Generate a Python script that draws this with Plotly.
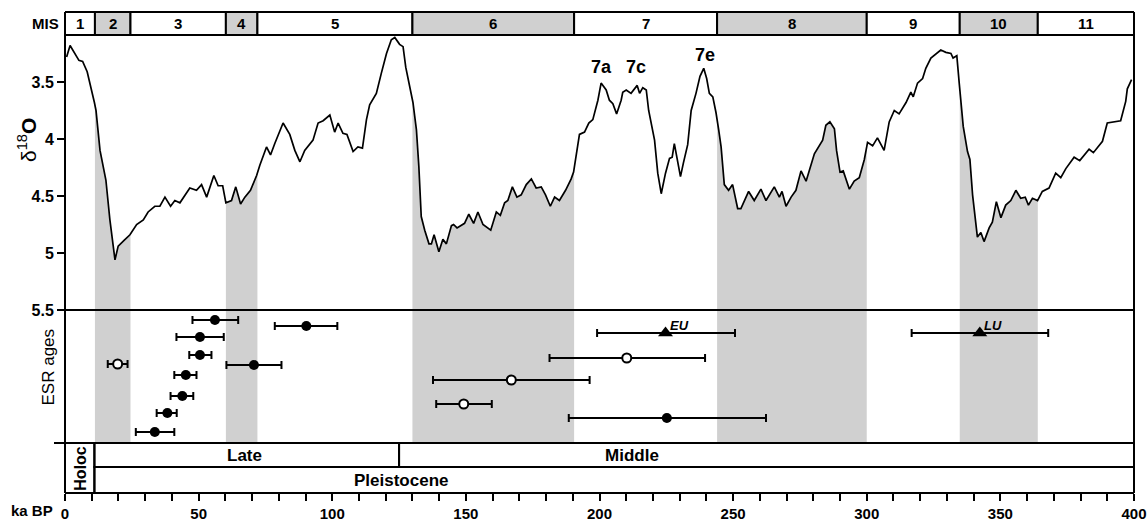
import numpy as np
import plotly.graph_objects as go

# ---------------- data ----------------
age_ka = [0.6, 1.9, 5.2, 6.6, 8.3, 10.0, 11.0, 11.6, 13.1, 15.3,
          16.8, 18.7, 19.9, 22.1, 24.3, 26.8, 29.3, 31.1, 33.6, 35.5,
          37.4, 39.5, 41.1, 43.0, 46.7, 49.2, 51.1, 53.0, 55.7, 57.3,
          59.0, 60.2, 62.3, 63.9, 65.7, 67.3, 69.4, 71.7, 72.9, 75.4,
          76.9, 78.5, 81.6, 84.1, 86.0, 87.9, 89.7, 92.8, 94.7, 96.6,
          99.1, 100.9, 102.2, 104.0, 105.5, 107.8, 109.6, 111.3, 112.8, 114.0,
          116.5, 118.4, 120.3, 122.1, 123.4, 125.2, 126.5, 127.5, 129.0,
          130.2, 131.5, 132.4, 133.3, 134.6, 136.2, 137.1, 138.1, 139.9, 141.4,
          142.7, 144.6, 145.4, 146.7, 149.5, 151.1, 152.9, 154.5, 156.4, 159.3,
          161.4, 162.9, 164.5, 165.7, 167.4, 169.1, 170.7, 172.6, 174.5, 176.3,
          178.2, 179.8, 181.6, 183.2, 185.0, 187.3, 189.4, 190.3, 191.3, 192.5,
          194.4, 196.0, 197.5, 199.4, 200.6, 202.5, 203.7, 205.0, 206.4, 208.1,
          208.7, 210.0, 211.8, 214.1, 215.0, 216.2, 217.5, 218.4, 220.6, 221.8,
          223.1, 224.7, 226.2, 227.2, 228.0, 228.7, 230.3, 231.4, 233.0, 234.3,
          236.1, 237.6, 239.0, 240.1, 241.1, 242.4, 243.6, 244.6, 245.5, 246.7,
          248.3, 249.8, 251.7, 252.9, 255.8, 257.9, 260.4, 262.3,
          265.4, 267.3, 268.3, 269.8, 271.7, 273.5, 275.4, 277.3, 280.4, 283.5,
          284.7, 286.2, 287.9, 288.7, 290.0, 291.2, 293.5, 295.3, 297.2, 299.1,
          300.3, 302.2, 304.0, 306.5, 308.4, 310.3, 312.1, 314.7, 316.5, 317.4,
          319.0, 320.9, 322.1, 324.0, 325.9, 327.7, 329.6, 331.5, 332.3, 333.7,
          334.6, 335.4, 336.1, 337.7, 338.6, 339.6, 341.4, 342.7, 343.9, 345.8,
          347.0, 348.5, 350.2, 352.0, 353.9, 355.8, 357.6, 359.3, 360.5, 362.0,
          363.9, 365.7, 368.2, 370.7, 372.6, 374.5, 377.6, 379.7, 383.2, 384.8,
          388.2, 390.0, 395.0, 396.9, 397.5, 399.1]
d18o = [3.28, 3.18, 3.31, 3.32, 3.41, 3.57, 3.68, 3.75, 4.10, 4.36,
        4.71, 5.06, 4.94, 4.89, 4.84, 4.75, 4.71, 4.64, 4.59, 4.59,
        4.51, 4.59, 4.54, 4.56, 4.43, 4.45, 4.40, 4.51, 4.32, 4.41,
        4.41, 4.56, 4.54, 4.42, 4.57, 4.51, 4.45, 4.32, 4.23, 4.07,
        4.14, 4.04, 3.86, 3.96, 4.10, 4.20, 4.10, 4.01, 3.86, 3.84,
        3.79, 3.94, 3.86, 3.95, 3.96, 4.11, 4.07, 4.08, 3.83, 3.70,
        3.60, 3.42, 3.25, 3.13, 3.11, 3.17, 3.19, 3.37, 3.54,
        3.68, 3.92, 4.24, 4.68, 4.80, 4.92, 4.92, 4.84, 4.99, 4.88,
        4.92, 4.76, 4.75, 4.78, 4.74, 4.66, 4.74, 4.64, 4.75, 4.80,
        4.64, 4.67, 4.56, 4.54, 4.42, 4.51, 4.49, 4.40, 4.35, 4.43,
        4.42, 4.49, 4.59, 4.51, 4.54, 4.45, 4.35, 4.29, 4.13, 3.96,
        3.94, 3.86, 3.83, 3.66, 3.51, 3.57, 3.66, 3.69, 3.78, 3.66,
        3.59, 3.57, 3.60, 3.53, 3.60, 3.55, 3.57, 3.75, 4.01, 4.30,
        4.48, 4.30, 4.17, 4.16, 4.04, 4.13, 4.33, 4.21, 4.05, 3.75,
        3.60, 3.45, 3.38, 3.47, 3.60, 3.63, 3.77, 3.92, 4.07, 4.40,
        4.45, 4.40, 4.61, 4.61, 4.46, 4.54, 4.44, 4.54,
        4.42, 4.51, 4.46, 4.59, 4.51, 4.45, 4.28, 4.37, 4.13, 4.01,
        3.88, 3.85, 3.91, 4.10, 4.29, 4.28, 4.44, 4.37, 4.34, 4.18,
        4.03, 4.06, 3.99, 4.10, 3.85, 3.75, 3.78, 3.68, 3.59, 3.63,
        3.51, 3.47, 3.38, 3.29, 3.25, 3.22, 3.24, 3.25, 3.29, 3.27,
        3.51, 3.75, 3.89, 4.11, 4.18, 4.49, 4.86, 4.82, 4.90, 4.78,
        4.73, 4.55, 4.69, 4.58, 4.54, 4.45, 4.52, 4.51, 4.58, 4.52,
        4.54, 4.46, 4.43, 4.30, 4.34, 4.26, 4.16, 4.19, 4.09, 4.12,
        4.02, 3.86, 3.84, 3.67, 3.56, 3.48]

mis_labels = ['1', '2', '3', '4', '5', '6', '7', '8', '9', '10', '11']
mis_bounds = [0, 11.2, 24.5, 60.2, 72.0, 130.0, 190.5, 244.0, 300.0, 334.8, 364.0, 400]

substage_labels = ['7a', '7c', '7e']
substage_age = [200.6, 213.7, 239.3]
substage_d18o = [3.37, 3.37, 3.26]

# ESR ages: central age, lower and upper bound (ka), and row position in panel
esr_fill_age = [56.1, 90.3, 50.5, 50.5, 70.7, 45.2, 43.9, 38.3, 33.6, 225.2]
esr_fill_lo = [47.7, 78.5, 41.7, 46.5, 60.4, 40.9, 39.5, 34.3, 26.5, 188.5]
esr_fill_hi = [64.8, 101.9, 59.4, 54.8, 81.0, 49.2, 48.0, 41.8, 40.9, 262.3]
esr_fill_row = [12.3, 11.7, 10.6, 8.8, 7.8, 6.8, 4.7, 3.0, 1.1, 2.5]

esr_open_age = [19.7, 210.2, 167.0, 149.2]
esr_open_lo = [16.0, 181.3, 137.7, 138.9]
esr_open_hi = [23.4, 239.5, 196.3, 159.7]
esr_open_row = [7.9, 8.5, 6.3, 3.9]

esr_tri_label = ['EU', 'LU']
esr_tri_age = [224.7, 342.3]
esr_tri_lo = [199.1, 316.8]
esr_tri_hi = [250.7, 367.9]
esr_tri_row = [11.0, 11.0]

holocene_end = 11.0
late_middle = 125.0
xtick_vals = list(range(0, 401, 10))
xtick_text = [str(v) if v % 50 == 0 else '' for v in xtick_vals]
ytick_vals = [3.5, 4, 4.5, 5, 5.5]
ytick_text = ['3.5', '4', '4.5', '5', '5.5']

# ---------------- layout geometry ----------------
W, H = 1148, 522
ML, MR, MT, MB = 65, 14, 12, 29
PW, PH = W - ML - MR, H - MT - MB


def py(px):
    return (H - MB - px) / PH


def pxx(px):
    return (px - ML) / PW


GRAY = '#d0d0d0'
FONT = 'Liberation Sans, Arial, sans-serif'
Y_D18O = [py(310), py(35)]
Y_ESR = [py(443), py(310)]
Y_LATE = [py(467), py(443)]
Y_PLEI = [0, py(467)]
Y_MIS = [py(35), 1]

fig = go.Figure()

ages = np.array(age_ka)
vals = np.array(d18o)
YBOT = 5.5

# shaded even stages below the curve
for i in range(1, len(mis_labels), 2):
    a, b = mis_bounds[i], mis_bounds[i + 1]
    inside = (ages > a) & (ages < b)
    xs = [a] + list(ages[inside]) + [b]
    ys = [np.interp(a, ages, vals)] + list(vals[inside]) + [np.interp(b, ages, vals)]
    xs += [b, a]
    ys += [YBOT, YBOT]
    fig.add_trace(go.Scatter(x=xs, y=ys, fill='toself', fillcolor=GRAY,
                             line=dict(width=0), mode='lines', hoverinfo='skip',
                             xaxis='x', yaxis='y', showlegend=False))

fig.add_trace(go.Scatter(x=age_ka, y=d18o, mode='lines',
                         line=dict(color='black', width=1.7),
                         xaxis='x', yaxis='y', showlegend=False))


def err(age, lo, hi):
    plus = [h - a for a, h in zip(age, hi)]
    minus = [a - l for a, l in zip(age, lo)]
    return dict(type='data', symmetric=False, array=plus, arrayminus=minus,
                color='black', thickness=2, width=4)


fig.add_trace(go.Scatter(x=esr_fill_age, y=esr_fill_row, mode='markers',
                         marker=dict(symbol='circle', size=10, color='black'),
                         error_x=err(esr_fill_age, esr_fill_lo, esr_fill_hi),
                         xaxis='x', yaxis='y2', showlegend=False))
fig.add_trace(go.Scatter(x=esr_open_age, y=esr_open_row, mode='markers',
                         marker=dict(symbol='circle', size=9, color='white',
                                     line=dict(color='black', width=2)),
                         error_x=err(esr_open_age, esr_open_lo, esr_open_hi),
                         xaxis='x', yaxis='y2', showlegend=False))
fig.add_trace(go.Scatter(x=esr_tri_age, y=esr_tri_row, mode='markers',
                         marker=dict(symbol='triangle-up', size=13, color='black'),
                         error_x=err(esr_tri_age, esr_tri_lo, esr_tri_hi),
                         xaxis='x', yaxis='y2', showlegend=False))

shapes = []
annotations = []


def label(x, y, text, size, xref='paper', yref='paper', angle=0, xanchor='center',
          yanchor='middle', **kw):
    d = dict(x=x, y=y, xref=xref, yref=yref, text=text, textangle=angle,
             xanchor=xanchor, yanchor=yanchor, showarrow=False,
             font=dict(family=FONT, size=size, color='black'))
    d.update(kw)
    annotations.append(d)


# ESR panel gray bands
for i in range(1, len(mis_labels), 2):
    shapes.append(dict(type='rect', xref='x', yref='y2 domain',
                       x0=mis_bounds[i], x1=mis_bounds[i + 1], y0=0, y1=1,
                       fillcolor=GRAY, line=dict(width=0), layer='below'))
# MIS bar
for i, lab in enumerate(mis_labels):
    a, b = mis_bounds[i], mis_bounds[i + 1]
    shapes.append(dict(type='rect', xref='x', yref='paper', x0=a, x1=b,
                       y0=Y_MIS[0], y1=Y_MIS[1],
                       fillcolor=GRAY if i % 2 == 1 else 'white',
                       line=dict(color='black', width=2)))
    label((a + b) / 2, (Y_MIS[0] + Y_MIS[1]) / 2, '<b>%s</b>' % lab, 15, xref='x')
# panel separators
shapes.append(dict(type='line', xref='paper', yref='paper', x0=0, x1=1,
                   y0=Y_D18O[0], y1=Y_D18O[0], line=dict(color='black', width=2)))
shapes.append(dict(type='line', xref='paper', yref='paper', x0=pxx(54), x1=1,
                   y0=Y_ESR[0], y1=Y_ESR[0], line=dict(color='black', width=2)))
# epoch boxes
shapes.append(dict(type='rect', xref='x', yref='paper', x0=0, x1=holocene_end,
                   y0=0, y1=Y_LATE[1], line=dict(color='black', width=2)))
shapes.append(dict(type='rect', xref='x', yref='paper', x0=holocene_end, x1=late_middle,
                   y0=Y_LATE[0], y1=Y_LATE[1], line=dict(color='black', width=2)))
shapes.append(dict(type='rect', xref='x', yref='paper', x0=late_middle, x1=400,
                   y0=Y_LATE[0], y1=Y_LATE[1], line=dict(color='black', width=2)))
shapes.append(dict(type='rect', xref='x', yref='paper', x0=holocene_end, x1=400,
                   y0=Y_PLEI[0], y1=Y_PLEI[1], line=dict(color='black', width=2)))
# outer frame
shapes.append(dict(type='line', xref='paper', yref='paper', x0=0, x1=0, y0=0, y1=1,
                   line=dict(color='black', width=2)))
shapes.append(dict(type='line', xref='paper', yref='paper', x0=1, x1=1, y0=0, y1=1,
                   line=dict(color='black', width=2)))

label(5.5, (Y_PLEI[0] + Y_LATE[1]) / 2, '<b>Holoc</b>', 16, xref='x', angle=-90)
label(67, (Y_LATE[0] + Y_LATE[1]) / 2, '<b>Late</b>', 17, xref='x')
label(212, (Y_LATE[0] + Y_LATE[1]) / 2, '<b>Middle</b>', 17, xref='x')
label(125.8, (Y_PLEI[0] + Y_PLEI[1]) / 2, '<b>Pleistocene</b>', 17, xref='x')
label(pxx(61), (Y_MIS[0] + Y_MIS[1]) / 2, '<b>MIS</b>', 15, xanchor='right')
label(pxx(27), py(140), 'δ<sup>18</sup><b>O</b>', 21, angle=-90)
label(pxx(47.5), py(367), 'ESR ages', 17, angle=-90)
label(pxx(32), py(511), '<b>ka BP</b>', 15)

for lab, a, v in zip(substage_labels, substage_age, substage_d18o):
    label(a, v, '<b>%s</b>' % lab, 18, xref='x', yref='y')
for lab, a, r in zip(esr_tri_label, esr_tri_age, esr_tri_row):
    label(a, r, '<b><i>%s</i></b>' % lab, 13, xref='x', yref='y2',
          xanchor='left', yanchor='bottom', xshift=2, yshift=-2)

fig.update_layout(
    width=W, height=H,
    margin=dict(l=ML, r=MR, t=MT, b=MB, pad=0, autoexpand=False),
    paper_bgcolor='white', plot_bgcolor='white',
    showlegend=False,
    xaxis=dict(range=[0, 400], domain=[0, 1], anchor='free', position=0,
               tickvals=xtick_vals, ticktext=xtick_text, ticks='outside',
               ticklen=7, tickwidth=2, tickcolor='black', automargin=False,
               showgrid=False, zeroline=False, showline=True, linewidth=2, linecolor='black',
               tickfont=dict(family=FONT, size=15, color='black', weight='bold')),
    yaxis=dict(range=[5.5, 3.088], domain=Y_D18O, anchor='free', position=0,
               tickvals=ytick_vals, ticktext=ytick_text, ticks='outside',
               ticklen=8, tickwidth=2, tickcolor='black', automargin=False,
               showgrid=False, zeroline=False, showline=False,
               tickfont=dict(family=FONT, size=16, color='black', weight='bold')),
    yaxis2=dict(range=[0, 13.3], domain=Y_ESR, anchor='free', position=0,
                showticklabels=False, ticks='', showgrid=False, zeroline=False,
                showline=False, automargin=False),
    shapes=shapes, annotations=annotations,
)

fig.write_html('out.html', config={'displayModeBar': False},
               post_script="document.body.style.margin='0';document.body.style.padding='0';"
                           "document.documentElement.style.overflow='hidden';")
